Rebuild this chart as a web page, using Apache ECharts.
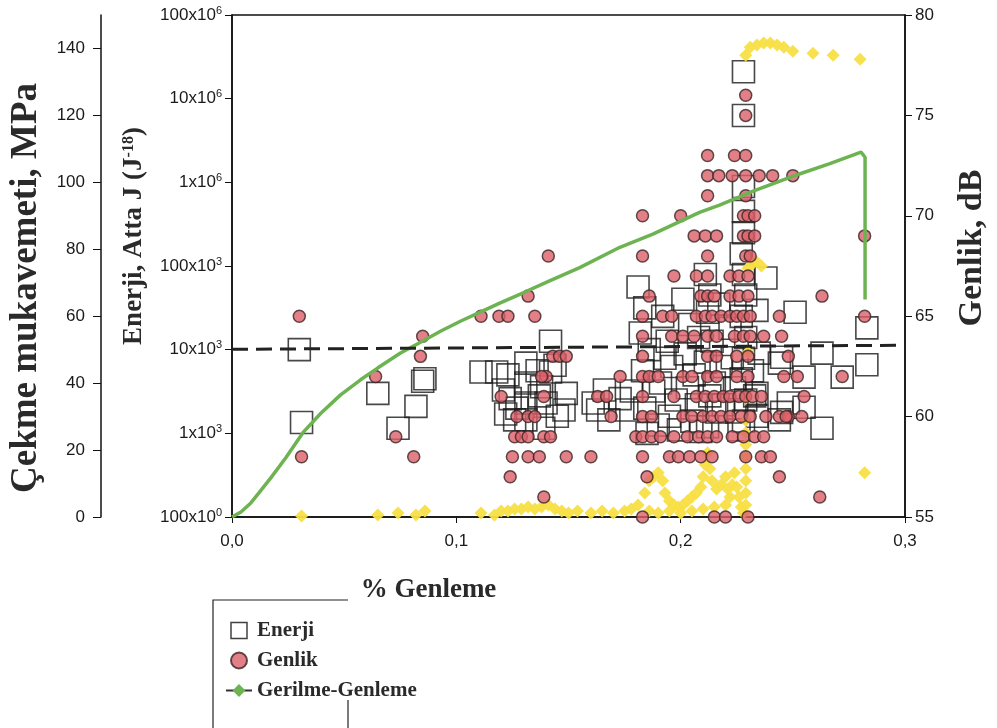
<!DOCTYPE html>
<html><head><meta charset="utf-8">
<script src="https://cdn.jsdelivr.net/npm/echarts@6/dist/echarts.min.js"></script>
<style>html,body{margin:0;padding:0;background:#fff}#c{width:997px;height:728px}</style>
</head><body><div id="c"></div>
<script>
// ---- tick labels ----
const xTicks = [0, 0.1, 0.2, 0.3];
const xTickLabels = ['0,0', '0,1', '0,2', '0,3'];
const mpaTicks = [0, 20, 40, 60, 80, 100, 120, 140];
const energyTicks = [1e2, 1e3, 1e4, 1e5, 1e6, 1e7, 1e8];
const energyTickLabels = ['100x10^0', '1x10^3', '10x10^3', '100x10^3', '1x10^6', '10x10^6', '100x10^6'];
const dbTicks = [55, 60, 65, 70, 75, 80];

// ---- Gerilme-Genleme: [% strain, MPa] ----
const gerilmeData = [
  [0, 0], [0.004, 1.5], [0.0084, 4.2], [0.012, 7.2], [0.0173, 11.7], [0.024, 17.7], [0.0316, 25.2],
  [0.0396, 31], [0.0484, 36.5], [0.0573, 41], [0.0649, 44.5], [0.0751, 49], [0.0849, 52.5],
  [0.0929, 55.5], [0.1018, 58.5], [0.1116, 61.5], [0.1196, 64], [0.1298, 67], [0.1413, 70.5],
  [0.155, 74.5], [0.1729, 80.6], [0.1876, 84.5], [0.2084, 91], [0.2173, 93.2], [0.2329, 97.5],
  [0.2529, 102.5], [0.2662, 105.5], [0.2804, 109], [0.2822, 107.5], [0.2822, 100], [0.2822, 90],
  [0.2822, 80], [0.2822, 70], [0.2822, 65]
];

// ---- Enerji: [% strain, attoJ] ----
const enerjiData = [
  [0.030, 10000], [0.031, 1350],
  [0.065, 3000], [0.074, 1150], [0.082, 2100], [0.086, 4500], [0.085, 4200],
  [0.111, 5400], [0.118, 5400], [0.123, 5000], [0.131, 6900], [0.136, 5600], [0.142, 5400],
  [0.142, 12600], [0.144, 6500], [0.131, 4000], [0.149, 3000], [0.124, 2600], [0.131, 2300],
  [0.140, 2300], [0.122, 1700], [0.126, 1450], [0.131, 1450], [0.139, 1150], [0.148, 1900],
  [0.121, 3300], [0.137, 2800], [0.145, 1600], [0.138, 3600], [0.127, 2000],
  [0.163, 1900], [0.166, 3300], [0.168, 1450], [0.176, 1900], [0.173, 2600], [0.161, 2300], [0.178, 3200],
  [0.181, 56000], [0.184, 31600], [0.182, 15800], [0.186, 10000], [0.183, 5600], [0.188, 3200],
  [0.184, 2000], [0.190, 1260], [0.185, 1000],
  [0.192, 25000], [0.194, 12600], [0.196, 6300], [0.191, 4000], [0.198, 2500], [0.195, 1600],
  [0.199, 1100], [0.193, 7900],
  [0.201, 40000], [0.204, 20000], [0.202, 8900], [0.206, 5000], [0.203, 3500], [0.207, 2200],
  [0.205, 1400], [0.209, 1050], [0.208, 14000],
  [0.211, 79000], [0.213, 45000], [0.212, 28000], [0.214, 12600], [0.211, 7100], [0.215, 4000],
  [0.213, 2800], [0.216, 1800], [0.212, 1200], [0.218, 6300], [0.219, 2200], [0.217, 35000],
  [0.228, 21000000], [0.228, 6300000], [0.228, 890000], [0.228, 450000], [0.228, 250000],
  [0.227, 140000], [0.228, 79000], [0.229, 45000], [0.227, 25000], [0.229, 14000], [0.228, 7900],
  [0.227, 4500], [0.229, 2500], [0.228, 1400], [0.226, 1100],
  [0.222, 18000], [0.223, 8000], [0.224, 3500], [0.225, 1800], [0.232, 5600], [0.233, 2800],
  [0.234, 1600],
  [0.238, 72000], [0.234, 29500], [0.235, 9100], [0.244, 6900], [0.244, 1450], [0.234, 3000], [0.248, 2300],
  [0.251, 28000], [0.263, 9100], [0.272, 4700], [0.283, 6600], [0.283, 18200], [0.263, 1150],
  [0.255, 2050], [0.245, 8100], [0.245, 1780], [0.255, 4700]
];

// ---- Genlik: [% strain, dB] ----
const genlikData = [
  [0.030, 65], [0.031, 58], [0.064, 62], [0.073, 59], [0.085, 64], [0.084, 63], [0.081, 58],
  [0.111, 65], [0.119, 65], [0.123, 65], [0.135, 65], [0.132, 66], [0.141, 68], [0.143, 63],
  [0.146, 63], [0.149, 63], [0.140, 62], [0.138, 62], [0.120, 61], [0.139, 61], [0.127, 60],
  [0.132, 60], [0.135, 60], [0.126, 59], [0.129, 59], [0.132, 59], [0.139, 59], [0.142, 59],
  [0.125, 58], [0.132, 58], [0.137, 58], [0.149, 58], [0.124, 57], [0.139, 56],
  [0.173, 62], [0.163, 61], [0.167, 61], [0.169, 60], [0.160, 58],
  [0.183, 70], [0.183, 68], [0.186, 66], [0.183, 65], [0.192, 65], [0.196, 65], [0.183, 64],
  [0.196, 64], [0.201, 64], [0.206, 64], [0.183, 63], [0.183, 62], [0.186, 62], [0.190, 62],
  [0.201, 62], [0.183, 61], [0.197, 61], [0.183, 60], [0.187, 60], [0.201, 60], [0.180, 59],
  [0.183, 59], [0.187, 59], [0.191, 59], [0.197, 59], [0.203, 59], [0.183, 58], [0.195, 58],
  [0.199, 58], [0.204, 58], [0.185, 57], [0.183, 55], [0.200, 70], [0.197, 67],
  [0.212, 73], [0.212, 72], [0.217, 72], [0.212, 71], [0.206, 69], [0.211, 69], [0.216, 69],
  [0.212, 68], [0.207, 67], [0.212, 67], [0.209, 66], [0.212, 66], [0.215, 66], [0.207, 65],
  [0.211, 65], [0.214, 65], [0.218, 65], [0.212, 64], [0.216, 64], [0.212, 63], [0.216, 63],
  [0.205, 62], [0.212, 62], [0.216, 62], [0.207, 61], [0.211, 61], [0.215, 61], [0.219, 61],
  [0.205, 60], [0.210, 60], [0.214, 60], [0.218, 60], [0.208, 59], [0.212, 59], [0.216, 59],
  [0.209, 58], [0.214, 58], [0.215, 55],
  [0.229, 76], [0.229, 75], [0.224, 73], [0.229, 73], [0.223, 72], [0.229, 72], [0.235, 72],
  [0.241, 72], [0.229, 71], [0.228, 70], [0.230, 70], [0.233, 70], [0.228, 69], [0.230, 69],
  [0.233, 69], [0.229, 68], [0.231, 68], [0.222, 67], [0.226, 67], [0.230, 67], [0.222, 66],
  [0.226, 66], [0.230, 66], [0.222, 65], [0.225, 65], [0.228, 65], [0.231, 65], [0.244, 65],
  [0.224, 64], [0.228, 64], [0.231, 64], [0.237, 64], [0.245, 64], [0.225, 63], [0.230, 63],
  [0.225, 62], [0.230, 62], [0.246, 62], [0.222, 61], [0.226, 61], [0.229, 61], [0.232, 61],
  [0.236, 61], [0.222, 60], [0.227, 60], [0.231, 60], [0.238, 60], [0.244, 60], [0.248, 60],
  [0.223, 59], [0.228, 59], [0.233, 59], [0.237, 59], [0.229, 58], [0.236, 58], [0.240, 58],
  [0.244, 57], [0.220, 55], [0.230, 55],
  [0.250, 72], [0.263, 66], [0.248, 63], [0.252, 62], [0.272, 62], [0.255, 61], [0.247, 60],
  [0.254, 60], [0.262, 56], [0.282, 69], [0.282, 65]
];

// ---- unlabeled yellow series: [% strain, dB scale] ----
const sariData = [
  [0.031, 55.05], [0.065, 55.1], [0.074, 55.2], [0.082, 55.1], [0.086, 55.3],
  [0.111, 55.2], [0.117, 55.1], [0.120, 55.3], [0.123, 55.3], [0.126, 55.4], [0.129, 55.4],
  [0.132, 55.5], [0.135, 55.4], [0.138, 55.5], [0.141, 55.6], [0.144, 55.4], [0.147, 55.3],
  [0.150, 55.2], [0.154, 55.3], [0.160, 55.2], [0.165, 55.3], [0.170, 55.2], [0.175, 55.3],
  [0.178, 55.4],
  [0.181, 55.6], [0.184, 56.2], [0.186, 56.8], [0.188, 57.0], [0.190, 57.2], [0.192, 56.8],
  [0.193, 56.2], [0.195, 55.8], [0.197, 55.6], [0.199, 55.5], [0.201, 55.6], [0.203, 55.8],
  [0.205, 56.0], [0.207, 56.2], [0.209, 56.5], [0.210, 57.0], [0.211, 57.6], [0.212, 58.2],
  [0.213, 57.4], [0.214, 56.8], [0.216, 56.4], [0.218, 56.6], [0.220, 57.0], [0.221, 56.4],
  [0.222, 56.0], [0.223, 56.6], [0.224, 57.2], [0.225, 56.5], [0.226, 56.0], [0.227, 55.5],
  [0.228, 55.2], [0.229, 55.6], [0.229, 56.2], [0.229, 56.8], [0.229, 57.4], [0.229, 58.0],
  [0.229, 58.6], [0.229, 59.2], [0.229, 59.8], [0.229, 60.9], [0.230, 63.2], [0.230, 67.4],
  [0.232, 67.6], [0.234, 67.7], [0.236, 67.5],
  [0.186, 55.3], [0.190, 55.2], [0.195, 55.3], [0.200, 55.2], [0.205, 55.3], [0.210, 55.4],
  [0.215, 55.5], [0.220, 55.6],
  [0.229, 78.0], [0.231, 78.4], [0.234, 78.5], [0.237, 78.6], [0.240, 78.6], [0.243, 78.5],
  [0.246, 78.4], [0.250, 78.2], [0.259, 78.1], [0.268, 78.0], [0.280, 77.8], [0.282, 57.2]
];

// ---- dashed reference line on energy axis ----
const esikData = [[0, 10100], [0.3, 11300]];

const serif = "'Liberation Serif', 'DejaVu Serif', serif";
const sans = "'Liberation Sans', Arial, sans-serif";
const titleColor = '#2a2a2a';

function xLabel(v) {
  for (let i = 0; i < xTicks.length; i++) if (Math.abs(v - xTicks[i]) < 1e-9) return xTickLabels[i];
  return '';
}
function eLabel(v) {
  for (let i = 0; i < energyTicks.length; i++) {
    if (Math.abs(Math.log10(v) - Math.log10(energyTicks[i])) < 1e-6) {
      const p = energyTickLabels[i].split('^');
      return '{m|' + p[0] + '}{e|' + p[1] + '}';
    }
  }
  return '';
}

const chart = echarts.init(document.getElementById('c'), null, { renderer: 'canvas' });
chart.setOption({
  backgroundColor: '#fff',
  animation: false,
  grid: { left: 231, right: 90, top: 15, bottom: 211, show: true, borderColor: '#111', borderWidth: 1.5, backgroundColor: 'transparent' },
  graphic: [
    { type: 'polyline', silent: true, shape: { points: [[213, 728], [213, 600], [348, 600]] }, style: { stroke: '#222', lineWidth: 1.2, fill: null } },
    { type: 'polyline', silent: true, shape: { points: [[348, 700], [348, 728]] }, style: { stroke: '#222', lineWidth: 1.2, fill: null } }
  ],
  legend: {
    data: [
      { name: 'Enerji', icon: 'path://M0,0L10,0L10,10L0,10Z', itemStyle: { color: '#fff', borderColor: '#111', borderWidth: 1.5 } },
      { name: 'Genlik', icon: 'circle' },
      { name: 'Gerilme-Genleme', lineStyle: { color: '#333', width: 2 }, itemStyle: { color: '#6db352' } }
    ],
    orient: 'vertical', left: 213, top: 600,
    itemGap: 9, itemWidth: 26, itemHeight: 16,
    padding: [20, 12, 16, 12],
    textStyle: { fontFamily: serif, fontWeight: 'bold', fontSize: 21, color: '#2a2a2a' }
  },
  xAxis: {
    type: 'value', min: 0, max: 0.3, interval: 0.1,
    name: '% Genleme', nameLocation: 'middle', nameGap: 60,
    nameTextStyle: { fontFamily: serif, fontWeight: 'bold', fontSize: 27, color: titleColor, padding: [0, 280, 0, 0] },
    axisLine: { show: true, onZero: false, lineStyle: { color: '#111', width: 1.5 } },
    axisTick: { show: true, inside: false, length: 6, lineStyle: { color: '#111' } },
    axisLabel: { margin: 16, fontFamily: sans, fontSize: 17, color: '#1a1a1a', formatter: xLabel },
    splitLine: { show: false }
  },
  yAxis: [
    {
      type: 'value', position: 'left', offset: 131, min: 0, max: 150, interval: 20,
      name: 'Çekme mukavemeti, MPa', nameLocation: 'middle', nameRotate: 90, nameGap: 56,
      nameTextStyle: { fontFamily: serif, fontWeight: 'bold', fontSize: 37, color: titleColor, padding: [0, 44, 0, 0] },
      axisLine: { show: true, onZero: false, lineStyle: { color: '#111', width: 1.5 } },
      axisTick: { show: true, length: 8, customValues: mpaTicks, lineStyle: { color: '#111' } },
      axisLabel: { margin: 16, fontFamily: sans, fontSize: 17, color: '#1a1a1a', customValues: mpaTicks },
      splitLine: { show: false }
    },
    {
      type: 'log', logBase: 10, position: 'left', offset: 0, min: 100, max: 1e8, splitNumber: 6,
      name: 'Enerji, Atta J (J{sup|-18})', nameLocation: 'middle', nameRotate: 90, nameGap: 84,
      nameTextStyle: {
        fontFamily: serif, fontWeight: 'bold', fontSize: 27, color: titleColor, padding: [0, 0, 0, 60],
        rich: { sup: { fontFamily: serif, fontWeight: 'bold', fontSize: 16, color: titleColor, verticalAlign: 'top', lineHeight: 14 } }
      },
      axisLine: { show: true, onZero: false, lineStyle: { color: '#111', width: 1.5 } },
      axisTick: { show: true, length: 7, lineStyle: { color: '#111' } },
      minorTick: { show: false },
      axisLabel: {
        margin: 10, formatter: eLabel,
        rich: {
          m: { fontFamily: sans, fontSize: 17, color: '#1a1a1a', lineHeight: 20 },
          e: { fontFamily: sans, fontSize: 11, color: '#1a1a1a', verticalAlign: 'top', lineHeight: 12 }
        }
      },
      splitLine: { show: false }
    },
    {
      type: 'value', position: 'right', offset: 0, min: 55, max: 80, interval: 5,
      name: 'Genlik, dB', nameLocation: 'middle', nameRotate: 90, nameGap: 50,
      nameTextStyle: { fontFamily: serif, fontWeight: 'bold', fontSize: 34, color: titleColor, padding: [0, 0, 0, 36] },
      axisLine: { show: true, onZero: false, lineStyle: { color: '#111', width: 1.5 } },
      axisTick: { show: true, length: 7, customValues: dbTicks, lineStyle: { color: '#111' } },
      axisLabel: { margin: 10, fontFamily: sans, fontSize: 17, color: '#1a1a1a', customValues: dbTicks },
      splitLine: { show: false }
    }
  ],
  series: [
    {
      name: 'Enerji', type: 'scatter', yAxisIndex: 1, data: enerjiData, z: 2,
      symbol: 'rect', symbolSize: 22,
      itemStyle: { color: 'rgba(255,255,255,0)', borderColor: '#1a1a1a', borderWidth: 1.6 }
    },
    {
      name: 'Sarı', type: 'scatter', yAxisIndex: 2, data: sariData, z: 3,
      symbol: 'diamond', symbolSize: 13,
      itemStyle: { color: '#f8df45', opacity: 0.95 }
    },
    {
      name: 'Genlik', type: 'scatter', yAxisIndex: 2, data: genlikData, z: 4,
      symbol: 'circle', symbolSize: 12,
      itemStyle: { color: '#dc6069', borderColor: '#3a2424', borderWidth: 1.5 }
    },
    {
      name: 'Gerilme-Genleme', type: 'line', yAxisIndex: 0, data: gerilmeData, z: 5,
      symbol: 'diamond', symbolSize: 6, showSymbol: false,
      lineStyle: { color: '#6db352', width: 3.5 },
      itemStyle: { color: '#6db352' }
    },
    {
      name: 'Eşik', type: 'line', yAxisIndex: 1, data: esikData, z: 6,
      symbol: 'none', silent: true,
      lineStyle: { color: '#222', width: 3, type: [16, 8] }
    }
  ]
});
</script>
</body></html>
